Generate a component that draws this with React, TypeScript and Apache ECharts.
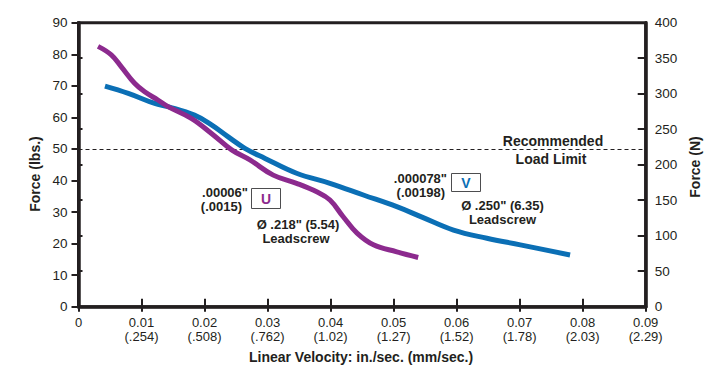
import React, { useEffect, useRef } from "react";
import * as echarts from "echarts";

// ---- data ----
const xTopLabels = ["0", "0.01", "0.02", "0.03", "0.04", "0.05", "0.06", "0.07", "0.08", "0.09"];
const xBottomLabels = ["", "(.254)", "(.508)", "(.762)", "(1.02)", "(1.27)", "(1.52)", "(1.78)", "(2.03)", "(2.29)"];

// V: Ø .250" (6.35) leadscrew, [in./sec., lbs]
const seriesV: [number, number][] = [
  [0.0042, 69.9], [0.0079, 67.6], [0.0121, 64.4], [0.0142, 63.4], [0.0184, 60.7],
  [0.0211, 57.6], [0.0237, 53.9], [0.0264, 50.2], [0.0296, 47.0], [0.0346, 42.3],
  [0.0399, 39.1], [0.0452, 35.4], [0.0505, 31.7], [0.0545, 28.4], [0.0595, 24.3],
  [0.0648, 21.7], [0.0701, 19.6], [0.078, 16.4],
];
// U: Ø .218" (5.54) leadscrew
const seriesU: [number, number][] = [
  [0.0031, 82.5], [0.0052, 79.8], [0.0068, 76.0], [0.0089, 70.8], [0.0105, 68.1],
  [0.0126, 65.5], [0.0142, 63.4], [0.0179, 59.7], [0.0211, 54.9], [0.0243, 49.7],
  [0.0272, 46.5], [0.0309, 41.7], [0.0346, 39.1], [0.0378, 36.4], [0.0399, 33.8],
  [0.042, 28.5], [0.0442, 23.3], [0.0468, 19.6], [0.0505, 17.4], [0.0539, 15.6],
];
const loadLimit = 50;

const INK = "#231f20";
const BLUE = "#0b6fb5";
const PURPLE = "#8c2a8e";
const FONT = "'Liberation Sans', Arial, Helvetica, sans-serif";

export default function App() {
  const ref = useRef<HTMLDivElement>(null);
  useEffect(() => {
    if (!ref.current) return;
    const chart = echarts.init(ref.current, undefined, { renderer: "svg" });
    const boldText = (text: string, x: number, y: number, align: string, fill = INK, size = 13) => ({
      type: "text",
      x,
      y,
      style: { text, fill, font: `bold ${size}px ${FONT}`, textAlign: align, textVerticalAlign: "middle" },
      z: 10,
    });
    chart.setOption({
      animation: false,
      backgroundColor: "#fff",
      textStyle: { fontFamily: FONT },
      grid: {
        left: 78.5,
        right: 74.3,
        top: 22.7,
        bottom: 67.3,
        show: true,
        borderColor: INK,
        borderWidth: 3,
        backgroundColor: "transparent",
      },
      xAxis: [
        {
          type: "value",
          min: 0,
          max: 0.09,
          interval: 0.01,
          position: "bottom",
          axisLine: { show: true, onZero: false, lineStyle: { color: INK, width: 3.5 } },
          axisTick: { show: true, inside: true, length: 8, lineStyle: { color: INK, width: 2 } },
          splitLine: { show: false },
          axisLabel: {
            margin: 9,
            color: INK,
            fontSize: 13,
            lineHeight: 14,
            fontFamily: FONT,
            formatter: (v: number) => {
              const i = Math.round(v * 100);
              const b = xBottomLabels[i];
              return b ? `${xTopLabels[i]}\n${b}` : xTopLabels[i];
            },
          },
        },
        {
          type: "value",
          min: 0,
          max: 0.09,
          interval: 0.01,
          position: "bottom",
          axisLine: { show: false },
          axisTick: { show: true, inside: false, length: 5, lineStyle: { color: INK, width: 2 } },
          splitLine: { show: false },
          axisLabel: { show: false },
        },
      ],
      yAxis: [
        {
          type: "value",
          min: 0,
          max: 90,
          interval: 10,
          position: "left",
          axisLine: { show: true, onZero: false, lineStyle: { color: INK, width: 3.5 } },
          axisTick: { show: true, inside: false, length: 7, lineStyle: { color: INK, width: 2 } },
          splitLine: { show: false },
          axisLabel: { margin: 11, color: INK, fontSize: 13.5, fontFamily: FONT },
        },
        {
          type: "value",
          min: 0,
          max: 400,
          interval: 50,
          position: "right",
          axisLine: { show: true, onZero: false, lineStyle: { color: INK, width: 3.5 } },
          axisTick: { show: true, inside: true, length: 8, lineStyle: { color: INK, width: 2 } },
          splitLine: { show: false },
          axisLabel: { margin: 9, color: INK, fontSize: 13.5, fontFamily: FONT },
        },
        {
          type: "value",
          min: 0,
          max: 400,
          interval: 50,
          position: "right",
          axisLine: { show: false },
          axisTick: { show: true, inside: false, length: 4, lineStyle: { color: INK, width: 2 } },
          splitLine: { show: false },
          axisLabel: { show: false },
        },
      ],
      series: [
        {
          type: "line",
          name: "V",
          xAxisIndex: 0,
          yAxisIndex: 0,
          data: seriesV,
          smooth: 0.4,
          showSymbol: false,
          lineStyle: { color: BLUE, width: 5, cap: "butt" },
          markLine: {
            silent: true,
            symbol: "none",
            label: { show: false },
            lineStyle: { type: [4, 3], width: 1, color: INK },
            data: [{ yAxis: loadLimit }],
            z: 1,
          },
          z: 3,
        },
        {
          type: "line",
          name: "U",
          xAxisIndex: 0,
          yAxisIndex: 0,
          data: seriesU,
          smooth: 0.4,
          showSymbol: false,
          lineStyle: { color: PURPLE, width: 5, cap: "butt" },
          z: 4,
        },
      ],
      graphic: [
        // axis titles
        {
          type: "text",
          x: 35,
          y: 174,
          rotation: Math.PI / 2,
          style: { text: "Force (lbs.)", fill: INK, font: `bold 14px ${FONT}`, textAlign: "center", textVerticalAlign: "middle" },
        },
        {
          type: "text",
          x: 695,
          y: 167,
          rotation: Math.PI / 2,
          style: { text: "Force (N)", fill: INK, font: `bold 14px ${FONT}`, textAlign: "center", textVerticalAlign: "middle" },
        },
        boldText("Linear Velocity: in./sec. (mm/sec.)", 361, 357, "center", INK, 14),
        // load limit
        boldText("Recommended", 553, 140.5, "center", INK, 14),
        boldText("Load Limit", 551, 159, "center", INK, 14),
        // U annotation
        boldText(".00006\"", 248, 192, "right"),
        boldText("(.0015)", 242, 206, "right"),
        { type: "rect", shape: { x: 251.5, y: 188.5, width: 29, height: 20 }, style: { fill: "#fff", stroke: "#4d4d4f", lineWidth: 1 }, z: 9 },
        boldText("U", 266, 199, "center", PURPLE, 14),
        boldText("Ø .218\" (5.54)", 298, 224.5, "center"),
        boldText("Leadscrew", 296, 238.5, "center"),
        // V annotation
        boldText(".000078\"", 447, 178, "right"),
        boldText("(.00198)", 445, 192, "right"),
        { type: "rect", shape: { x: 451.5, y: 173.5, width: 29, height: 18 }, style: { fill: "#fff", stroke: "#4d4d4f", lineWidth: 1 }, z: 9 },
        boldText("V", 466, 183, "center", BLUE, 14),
        boldText("Ø .250\" (6.35)", 502.5, 205, "center"),
        boldText("Leadscrew", 502.5, 219, "center"),
      ],
    });
    return () => chart.dispose();
  }, []);
  return (
    <div
      ref={ref}
      style={{ position: "fixed", left: 0, top: 0, width: 720, height: 374, background: "#fff" }}
    />
  );
}
